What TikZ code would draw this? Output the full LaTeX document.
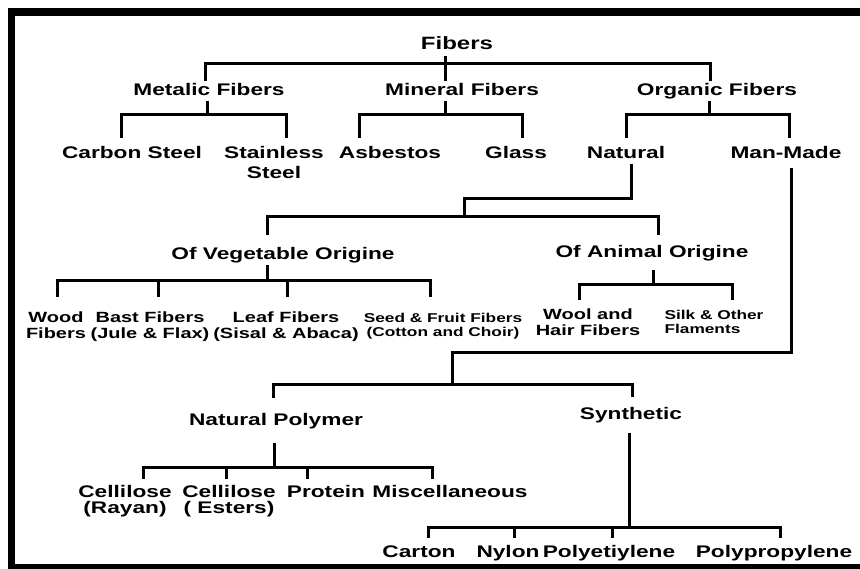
\documentclass[tikz,border=0pt]{standalone}
\usepackage{fontspec}
\setmainfont{Liberation Sans}[FakeStretch=1.35]
\usepackage{tikz}

\tikzset{
  lbl/.style={inner sep=2pt, anchor=north, font=\bfseries\fontsize{16.8}{20}\selectfont, text height=12pt, text depth=4pt},
  lbltwo/.style={inner sep=2pt, anchor=north, align=center, font=\bfseries\fontsize{16.8}{20}\selectfont},
  midtwo/.style={inner sep=2pt, anchor=north, align=center, font=\bfseries\fontsize{14.8}{15.5}\selectfont},
  smalltwo/.style={inner sep=2pt, anchor=north, align=center, font=\bfseries\fontsize{12.8}{14.5}\selectfont},
  conn/.style={line width=3pt},
}

\begin{document}
\begin{tikzpicture}[x=1pt, y=-1pt]
            \useasboundingbox (0,0) rectangle (860,569);
            % Frame
            \fill (8,8) rectangle (860,16);
            \fill (8,8) rectangle (15,569);
            \fill (8,564) rectangle (860,569);

            % Nodes
            \node[lbl, font=\bfseries\fontsize{17.8}{20}\selectfont, text height=12.7pt] (fib) at (457,35) {Fibers};
            \node[lbl] (met) at (209,81) {Metalic Fibers};
            \node[lbl] (min) at (462,81) {Mineral Fibers};
            \node[lbl] (org) at (717,81) {Organic Fibers};
            \node[lbl] (cs) at (132,144) {Carbon Steel};
            \node[lbltwo] (ss) at (274,144) {Stainless\\Steel};
            \node[lbl] (asb) at (390,144) {Asbestos};
            \node[lbl] (gla) at (516,144) {Glass};
            \node[lbl] (nat) at (626,144) {Natural};
            \node[lbl] (mm) at (786,144) {Man-Made};
            \node[lbl] (veg) at (283,245) {Of Vegetable Origine};
            \node[lbl] (ani) at (652,243) {Of Animal Origine};
            \node[midtwo] (wood) at (56,310) {Wood\\Fibers};
            \node[midtwo] (bast) at (150,310) {Bast Fibers\\(Jule \& Flax)};
            \node[midtwo] (leaf) at (286,310) {Leaf Fibers\\(Sisal \& Abaca)};
            \node[smalltwo] (seed) at (443,311) {Seed \& Fruit Fibers\\(Cotton and Choir)};
            \node[midtwo] (wool) at (588,307) {Wool and\\Hair Fibers};
            \node[smalltwo, align=left] (silk) at (714,308) {Silk \& Other\\Flaments};
            \node[lbl] (np) at (276,411) {Natural Polymer};
            \node[lbl] (syn) at (631,405) {Synthetic};
            \node[lbltwo, font=\bfseries\fontsize{16.8}{16}\selectfont] (cel1) at (125,483) {Cellilose\\(Rayan)};
            \node[lbltwo, font=\bfseries\fontsize{16.8}{16}\selectfont] (cel2) at (229,483) {Cellilose\\( Esters)};
            \node[lbl] (pro) at (326,483) {Protein};
            \node[lbl] (misc) at (450,483) {Miscellaneous};
            \node[lbl] (car) at (419,543) {Carton};
            \node[lbl] (nyl) at (508,543) {Nylon};
            \node[lbl] (pe) at (609,543) {Polyetiylene};
            \node[lbl] (pp) at (774,543) {Polypropylene};

            % Junctions
            \coordinate (jfib) at (445,64);
            \coordinate (jmet) at (207,115);
            \coordinate (jmin) at (445,115);
            \coordinate (jorg) at (709,115);
            \coordinate (knat) at (464,199);
            \coordinate (jnat) at (464,217);
            \coordinate (jveg) at (267,281);
            \coordinate (jani) at (653,285);
            \coordinate (kmm) at (452,353);
            \coordinate (jmm) at (452,385);
            \coordinate (jnp) at (274,467);
            \coordinate (jsyn) at (629,527);

            % Edges
            \draw[conn] (fib.south -| jfib) -- (jfib);
            \draw[conn] (jfib) -| ([xshift=-4pt]met.north);
            \draw[conn] (jfib) -| ([xshift=-17pt]min.north);
            \draw[conn] (jfib) -| ([xshift=-7pt]org.north);

            \draw[conn] (met.south -| jmet) -- (jmet);
            \draw[conn, shorten >=6pt] (jmet) -| ([xshift=-11pt]cs.north);
            \draw[conn, shorten >=6pt] (jmet) -| ([xshift=12pt]ss.north);

            \draw[conn] (min.south -| jmin) -- (jmin);
            \draw[conn, shorten >=6pt] (jmin) -| ([xshift=-31pt]asb.north);
            \draw[conn, shorten >=6pt] (jmin) -| ([xshift=6pt]gla.north);

            \draw[conn] (org.south -| jorg) -- (jorg);
            \draw[conn, shorten >=6pt] (jorg) -| (nat.north);
            \draw[conn, shorten >=6pt] (jorg) -| ([xshift=3pt]mm.north);

            \draw[conn] ([xshift=5pt]nat.south) |- (knat) -- (jnat);
            \draw[conn, shorten >=10pt] (jnat) -| ([xshift=-16pt]veg.north);
            \draw[conn, shorten >=8pt] (jnat) -| ([xshift=6pt]ani.north);

            \draw[conn] (veg.south -| jveg) -- (jveg);
            \draw[conn, shorten >=13pt] (jveg) -| ([xshift=1pt]wood.north);
            \draw[conn, shorten >=13pt] (jveg) -| ([xshift=8pt]bast.north);
            \draw[conn, shorten >=13pt] (jveg) -| ([xshift=1pt]leaf.north);
            \draw[conn, shorten >=14pt] (jveg) -| ([xshift=-13pt]seed.north);

            \draw[conn, shorten <=7pt] (ani.south -| jani) -- (jani);
            \draw[conn, shorten >=7pt] (jani) -| ([xshift=-9pt]wool.north);
            \draw[conn, shorten >=8pt] (jani) -| ([xshift=18pt]silk.north);

            \draw[conn, shorten <=4pt] ([xshift=5pt]mm.south) |- (kmm) -- (jmm);
            \draw[conn, shorten >=13pt] (jmm) -| ([xshift=-3pt]np.north);
            \draw[conn, shorten >=8pt] (jmm) -| ([xshift=1pt]syn.north);

            \draw[conn, shorten <=12pt] (np.south -| jnp) -- (jnp);
            \draw[conn, shorten >=4pt] (jnp) -| ([xshift=18pt]cel1.north);
            \draw[conn, shorten >=4pt] (jnp) -| ([xshift=-3pt]cel2.north);
            \draw[conn, shorten >=4pt] (jnp) -| ([xshift=-19pt]pro.north);
            \draw[conn, shorten >=4pt] (jnp) -| ([xshift=-18pt]misc.north);

            \draw[conn, shorten <=8pt] (syn.south -| jsyn) -- (jsyn);
            \draw[conn, shorten >=5pt] (jsyn) -| ([xshift=9pt]car.north);
            \draw[conn, shorten >=5pt] (jsyn) -| ([xshift=6pt]nyl.north);
            \draw[conn, shorten >=5pt] (jsyn) -| ([xshift=3pt]pe.north);
            \draw[conn, shorten >=5pt] (jsyn) -| ([xshift=6pt]pp.north);
        \end{tikzpicture}
\end{document}
